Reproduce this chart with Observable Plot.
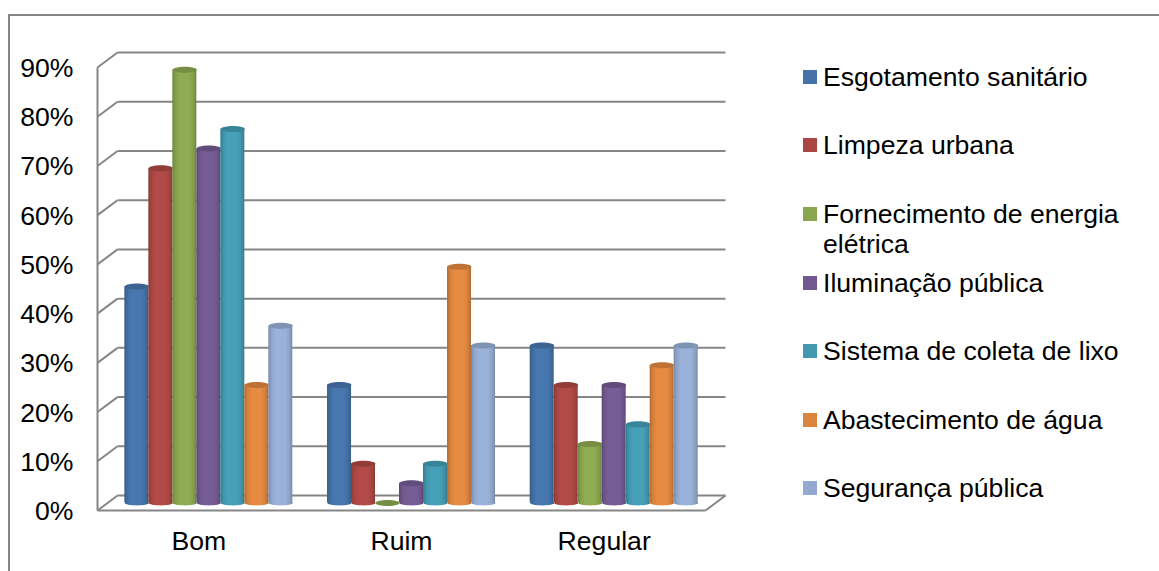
<!DOCTYPE html>
<html lang="pt">
<head>
<meta charset="utf-8">
<script src="https://cdn.jsdelivr.net/npm/d3@7"></script>
<script src="https://cdn.jsdelivr.net/npm/@observablehq/plot@0.6"></script>
<style>
  html, body { margin: 0; padding: 0; background: #fff; }
  #chart { position: relative; width: 1159px; height: 571px; overflow: hidden; font-family: "Liberation Sans", Arial, sans-serif; color: #000; }
  #chart svg { display: block; position: absolute; left: 0; top: 0; background: transparent; }
  #border { position: absolute; left: 8px; top: 14px; right: 0; bottom: 0; border-top: 2px solid #868686; border-left: 2px solid #868686; }
  #legend { position: absolute; left: 0; top: 0; width: 100%; height: 100%; font-size: 26.6px; line-height: 30px; }
  .entry { position: absolute; left: 823px; white-space: nowrap; }
  .entry i { position: absolute; left: -20px; top: 8px; width: 14px; height: 14px; }
</style>
</head>
<body>
<div id="chart">
  <div id="border"></div>
  <div id="plot"></div>
  <div id="legend"></div>
</div>
<script>
const categories = ["Bom", "Ruim", "Regular"];
const seriesNames = [
  "Esgotamento sanitário",
  "Limpeza urbana",
  "Fornecimento de energia elétrica",
  "Iluminação pública",
  "Sistema de coleta de lixo",
  "Abastecimento de água",
  "Segurança pública"
];

// Percentages per category, in the order Bom, Ruim, Regular
const esgotamento = [44, 24, 32];
const limpeza = [68, 8, 24];
const energia = [88, 0, 12];
const iluminacao = [72, 4, 24];
const coleta = [76, 8, 16];
const agua = [24, 48, 28];
const seguranca = [36, 32, 32];
const seriesValues = [esgotamento, limpeza, energia, iluminacao, coleta, agua, seguranca];

const percentTicks = [0, 10, 20, 30, 40, 50, 60, 70, 80, 90];

const baseColors = ["#4572a7", "#aa4643", "#89a54e", "#71588f", "#4198af", "#db843d", "#93a9cf"];
const bodyColors = ["#4677ae", "#b24a47", "#8fac52", "#775d96", "#45a0b8", "#e68b41", "#9ab1d9"];
const legendTops = [62, 130, 199, 268, 336, 405, 473];

// Depth of the 3D floor, expressed in data units of the two scales
const depthX = 0.0987;
const depthY = 3.04;
const barWidth = 0.1184;

const bars = seriesValues.map((values, s) =>
  values.map((value, c) => {
    const left = c + 0.5 + (s - 3.5) * barWidth + depthX / 2;
    return {
      category: categories[c],
      value,
      x1: left,
      x2: left + barWidth,
      xm: left + barWidth / 2,
      base: depthY / 2,
      top: value + depthY / 2
    };
  })
);

// Flattened ellipse used for the cap and the foot of each cylinder
const ellipse = (ratio) => ({
  draw(context, size) {
    const rx = Math.sqrt(size / Math.PI);
    const ry = rx * ratio;
    const k = 0.5523;
    context.moveTo(-rx, 0);
    context.bezierCurveTo(-rx, -ry * k, -rx * k, -ry, 0, -ry);
    context.bezierCurveTo(rx * k, -ry, rx, -ry * k, rx, 0);
    context.bezierCurveTo(rx, ry * k, rx * k, ry, 0, ry);
    context.bezierCurveTo(-rx * k, ry, -rx, ry * k, -rx, 0);
    context.closePath();
  }
});

// One horizontal gradient per series gives the bars their round shading
const gradients = () => {
  const ns = "http://www.w3.org/2000/svg";
  const defs = document.createElementNS(ns, "defs");
  bodyColors.forEach((color, i) => {
    const g = document.createElementNS(ns, "linearGradient");
    g.setAttribute("id", `cyl${i}`);
    const dark = d3.color(color).darker(0.7).formatHex();
    const mid = d3.color(color).darker(0.2).formatHex();
    [[0, dark], [0.14, mid], [0.3, color], [0.7, color], [0.86, mid], [1, dark]].forEach(([o, c]) => {
      const stop = document.createElementNS(ns, "stop");
      stop.setAttribute("offset", o);
      stop.setAttribute("stop-color", c);
      g.appendChild(stop);
    });
    defs.appendChild(g);
  });
  return defs;
};

const lineColor = "#868686";
const lineWidth = 2;
const textColor = "#000";

const cylinderMarks = bars.flatMap((rows, s) => [
  Plot.dot(rows.filter((d) => d.value > 0), {
    x: "xm", y: "base", r: 12, symbol: ellipse(0.2), fill: `url(#cyl${s})`
  }),
  Plot.rect(rows.filter((d) => d.value > 0), {
    x1: "x1", x2: "x2", y1: "base", y2: "top", fill: `url(#cyl${s})`
  }),
  Plot.dot(rows, {
    x: "xm", y: "top", r: 12,
    symbol: ellipse(0.25),
    fill: d3.color(baseColors[s]).darker(0.4).formatHex()
  })
]);

const chart = Plot.plot({
  width: 1159,
  height: 571,
  marginLeft: 97,
  marginRight: 454,
  marginTop: 67,
  marginBottom: 61,
  style: { fontFamily: '"Liberation Sans", Arial, sans-serif', background: "transparent", color: textColor },
  x: { domain: [0, 3], axis: null },
  y: { domain: [0, 90], axis: null },
  marks: [
    gradients,
    Plot.axisY(percentTicks, {
      anchor: "left",
      tickSize: 0,
      tickPadding: 24,
      tickFormat: (d) => `${d}%`,
      fontSize: 26.6,
      label: null,
      fill: textColor,
      dy: 1
    }),
    // Back wall gridlines and their diagonal returns to the front axis
    Plot.link(percentTicks, {
      x1: 0, x2: depthX, y1: (d) => d, y2: (d) => d + depthY,
      stroke: lineColor, strokeWidth: lineWidth
    }),
    Plot.link(percentTicks, {
      x1: depthX, x2: 3 + depthX, y1: (d) => d + depthY, y2: (d) => d + depthY,
      stroke: lineColor, strokeWidth: lineWidth
    }),
    // Front axis and the floor's front and right edges
    Plot.link([0], { x1: 0, x2: 0, y1: 0, y2: 90, stroke: lineColor, strokeWidth: lineWidth }),
    Plot.link([0], { x1: 0, x2: 3, y1: 0, y2: 0, stroke: lineColor, strokeWidth: lineWidth }),
    Plot.link([0], { x1: 3, x2: 3 + depthX, y1: 0, y2: depthY, stroke: lineColor, strokeWidth: lineWidth }),
    ...cylinderMarks,
    Plot.text(categories, {
      x: (d, i) => i + 0.5,
      y: 0,
      dy: 31,
      text: (d) => d,
      fontSize: 26.6,
      fill: textColor
    })
  ]
});
document.getElementById("plot").appendChild(chart);

// Legend at the right of the plot; the third entry wraps onto two lines
const legend = document.getElementById("legend");
seriesNames.forEach((name, i) => {
  const entry = document.createElement("div");
  entry.className = "entry";
  entry.style.top = `${legendTops[i]}px`;
  const swatch = document.createElement("i");
  swatch.style.background = baseColors[i];
  entry.appendChild(swatch);
  if (name === "Fornecimento de energia elétrica") {
    entry.appendChild(document.createTextNode("Fornecimento de energia"));
    entry.appendChild(document.createElement("br"));
    entry.appendChild(document.createTextNode("elétrica"));
  } else {
    entry.appendChild(document.createTextNode(name));
  }
  legend.appendChild(entry);
});
</script>
</body>
</html>
